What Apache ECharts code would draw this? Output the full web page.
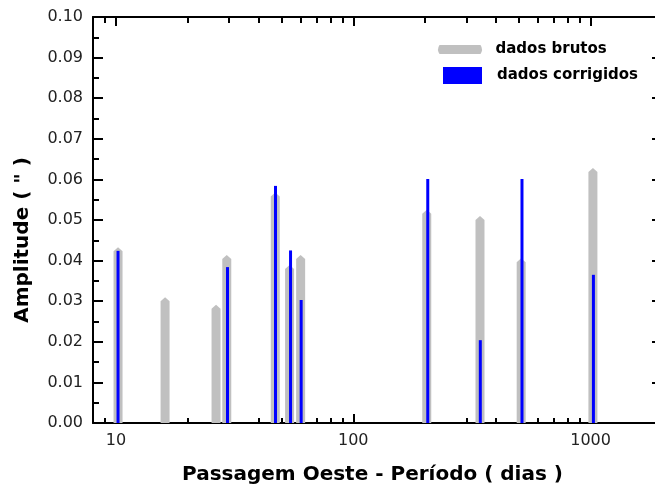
<!DOCTYPE html>
<html>
<head>
<meta charset="utf-8">
<script src="https://cdn.jsdelivr.net/npm/echarts@6/dist/echarts.min.js"></script>
<style>
  html, body { margin: 0; padding: 0; background: #fff; }
  #chart { width: 655px; height: 494px; }
</style>
</head>
<body>
<div id="chart"></div>
<script>
// dados brutos (grey)
var rawPeriods = [10.2, 16.1, 26.4, 29.3, 46.9, 53.9, 60.0, 204, 342, 510, 1023];
var rawAmps = [0.0433, 0.0310, 0.0291, 0.0414, 0.0568, 0.0389, 0.0414, 0.0525, 0.0510, 0.0406, 0.0628];
// dados corrigidos (blue)
var corrPeriods = [10.2, 29.5, 47.0, 54.4, 60.3, 206, 343, 514, 1028];
var corrAmps = [0.0424, 0.0384, 0.0584, 0.0425, 0.0303, 0.0601, 0.0204, 0.0601, 0.0365];
// ticks
var majorTicks = [10, 100, 1000];
var minorTicks = [9, 20, 30, 40, 50, 60, 70, 80, 90, 200, 300, 400, 500, 600, 700, 800, 900];

var rawData = rawPeriods.map(function (p, i) { return [p, rawAmps[i]]; });
var corrData = corrPeriods.map(function (p, i) { return [p, corrAmps[i]]; });

var font = 'DejaVu Sans';

function xAxisDef(pos, ticks, len, showLine, showLabels) {
    return {
        type: 'log',
        logBase: 10,
        min: 8,
        max: 2000,
        position: pos,
        axisLine: {show: showLine, lineStyle: {color: '#000', width: 2}},
        axisTick: {show: true, inside: true, length: len, customValues: ticks, lineStyle: {color: '#000', width: 2}},
        axisLabel: {
            show: showLabels, customValues: ticks, margin: 10, color: '#222', fontSize: 16, fontFamily: font,
            formatter: function (v) { return String(v); }
        },
        splitLine: {show: false},
        minorTick: {show: false}
    };
}

function yAxisDef(pos, showLabels) {
    return {
        type: 'value',
        min: 0,
        max: 0.1,
        interval: 0.01,
        position: pos,
        axisLine: {show: showLabels, lineStyle: {color: '#000', width: 2}},
        axisTick: {show: true, inside: true, length: 10, lineStyle: {color: '#000', width: 2}},
        minorTick: {show: true, splitNumber: 2, length: 6, lineStyle: {color: '#000', width: 2}},
        axisLabel: {
            show: showLabels, margin: 10, color: '#222', fontSize: 16, fontFamily: font,
            formatter: function (v) { return v.toFixed(2); }
        },
        splitLine: {show: false}
    };
}

var bottomMajor = xAxisDef('bottom', majorTicks, 9, true, true);
bottomMajor.name = 'Passagem Oeste - Período ( dias )';
bottomMajor.nameLocation = 'middle';
bottomMajor.nameGap = 42;
bottomMajor.nameTextStyle = {fontSize: 20, fontWeight: 'bold', fontFamily: font, color: '#000', padding: [0, 10, 0, 0]};

var leftAxis = yAxisDef('left', true);
leftAxis.name = 'Amplitude ( " )';
leftAxis.nameLocation = 'middle';
leftAxis.nameGap = 60;
leftAxis.nameTextStyle = {fontSize: 20, fontWeight: 'bold', fontFamily: font, color: '#000', padding: [0, 40, 0, 0]};

function greyItem(params, api) {
    var top = api.coord([api.value(0), api.value(1)]);
    var base = api.coord([api.value(0), 0]);
    var w = 9;
    return {
        type: 'polygon',
        shape: {points: [
            [top[0] - w / 2, base[1]], [top[0] - w / 2, top[1] + 4], [top[0], top[1]],
            [top[0] + w / 2, top[1] + 4], [top[0] + w / 2, base[1]]
        ]},
        style: {fill: '#c0c0c0'}
    };
}

function blueItem(params, api) {
    var top = api.coord([api.value(0), api.value(1)]);
    var base = api.coord([api.value(0), 0]);
    return {
        type: 'rect',
        shape: {x: top[0] - 1.5, y: top[1], width: 3, height: base[1] - top[1]},
        style: {fill: '#0000ff'}
    };
}

var chart = echarts.init(document.getElementById('chart'));
chart.setOption({
    backgroundColor: '#fff',
    animation: false,
    grid: {left: 93, top: 17, right: -7, bottom: 71, outerBoundsMode: 'none'},
    legend: [{
        data: [{name: 'dados brutos', icon: 'path://M3,0 L44,0 Q47,4.5 44,9 L3,9 Q0,4.5 3,0 Z'}],
        left: 438, top: 42, padding: 0,
        itemWidth: 47, itemHeight: 9,
        textStyle: {fontSize: 15, fontWeight: 'bold', fontFamily: font, color: '#000', padding: [0, 0, 0, 7]}
    }, {
        data: [{name: 'dados corrigidos', icon: 'rect'}],
        left: 443, top: 67, padding: 0,
        itemWidth: 39, itemHeight: 17,
        textStyle: {fontSize: 15, fontWeight: 'bold', fontFamily: font, color: '#000', padding: [0, 0, 0, 10]}
    }],
    xAxis: [
        bottomMajor,
        xAxisDef('bottom', minorTicks, 5, false, false),
        xAxisDef('top', majorTicks, 9, true, false),
        xAxisDef('top', minorTicks, 6, false, false)
    ],
    yAxis: [leftAxis, yAxisDef('right', false)],
    series: [{
        name: 'dados brutos',
        type: 'custom',
        xAxisIndex: 0,
        yAxisIndex: 0,
        itemStyle: {color: '#c0c0c0'},
        encode: {x: 0, y: 1},
        renderItem: greyItem,
        data: rawData,
        z: 2
    }, {
        name: 'dados corrigidos',
        type: 'custom',
        xAxisIndex: 0,
        yAxisIndex: 0,
        itemStyle: {color: '#0000ff'},
        encode: {x: 0, y: 1},
        renderItem: blueItem,
        data: corrData,
        z: 3
    }]
});
</script>
</body>
</html>
